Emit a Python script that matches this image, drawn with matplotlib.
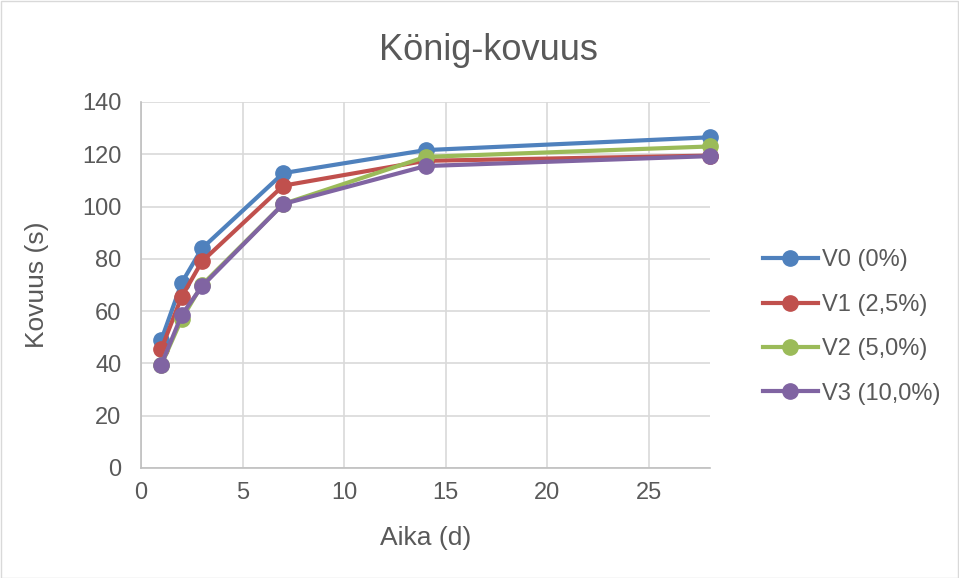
import matplotlib
matplotlib.use("Agg")
import matplotlib.pyplot as plt
from matplotlib.patches import Rectangle

days = [1, 2, 3, 7, 14, 28]
series_names = ["V0 (0%)", "V1 (2,5%)", "V2 (5,0%)", "V3 (10,0%)"]
v0 = [49, 70.8, 84, 112.8, 121.6, 126.5]
v1 = [45.5, 65.5, 79, 108, 117.5, 119.5]
v2 = [39.5, 57, 70, 101, 119, 123]
v3 = [39.5, 58.5, 69.5, 101, 115.5, 119.3]
colors = ["#4F81BD", "#C0504D", "#9BBB59", "#8064A2"]
title = "König-kovuus"
xlabel = "Aika (d)"
ylabel = "Kovuus (s)"

plt.rcParams['font.family'] = ['Liberation Sans', 'DejaVu Sans']

fig = plt.figure(figsize=(9.59, 5.78), dpi=100)
W, H = 959, 578
ax = fig.add_axes([141 / W, 1 - 468 / H, (710 - 141) / W, (468 - 102) / H])

for vals, c, name in zip([v0, v1, v2, v3], colors, series_names):
    ax.plot(days, vals, color=c, lw=3, marker='o', ms=11, label=name, clip_on=False)

ax.set_xlim(0, 28)
ax.set_ylim(0, 140)
ax.set_xticks([0, 5, 10, 15, 20, 25])
ax.set_yticks(range(0, 141, 20))
ax.grid(True, color="#D9D9D9", lw=1.2)
ax.set_axisbelow(True)
for s in ["top", "right"]:
    ax.spines[s].set_visible(False)
for s in ["left", "bottom"]:
    ax.spines[s].set_color("#BFBFBF")
    ax.spines[s].set_linewidth(1.2)
ax.tick_params(axis="y", length=0, labelsize=17, colors="#595959", pad=14)
ax.tick_params(axis="x", length=0, labelsize=17, colors="#595959", pad=10)
ax.set_xlabel(xlabel, fontsize=19, color="#595959", labelpad=16)
ax.set_ylabel(ylabel, fontsize=19, color="#595959", labelpad=24)
fig.text(488 / W, 1 - 50 / H, title, fontsize=26, color="#595959", ha="center", va="center")

leg = ax.legend(loc="center left", bbox_to_anchor=(742 / W, 1 - 327 / H), bbox_transform=fig.transFigure,
                frameon=False, fontsize=17, labelcolor="#595959", handlelength=2.3, labelspacing=0.95,
                handletextpad=0.2)

fig.patches.append(Rectangle((0.5 / W, 0.5 / H), 1 - 1.5 / W, 1 - 1.5 / H, transform=fig.transFigure,
                             fill=False, edgecolor="#D9D9D9", lw=1))

fig.savefig("out.png", dpi=100, facecolor="white")
